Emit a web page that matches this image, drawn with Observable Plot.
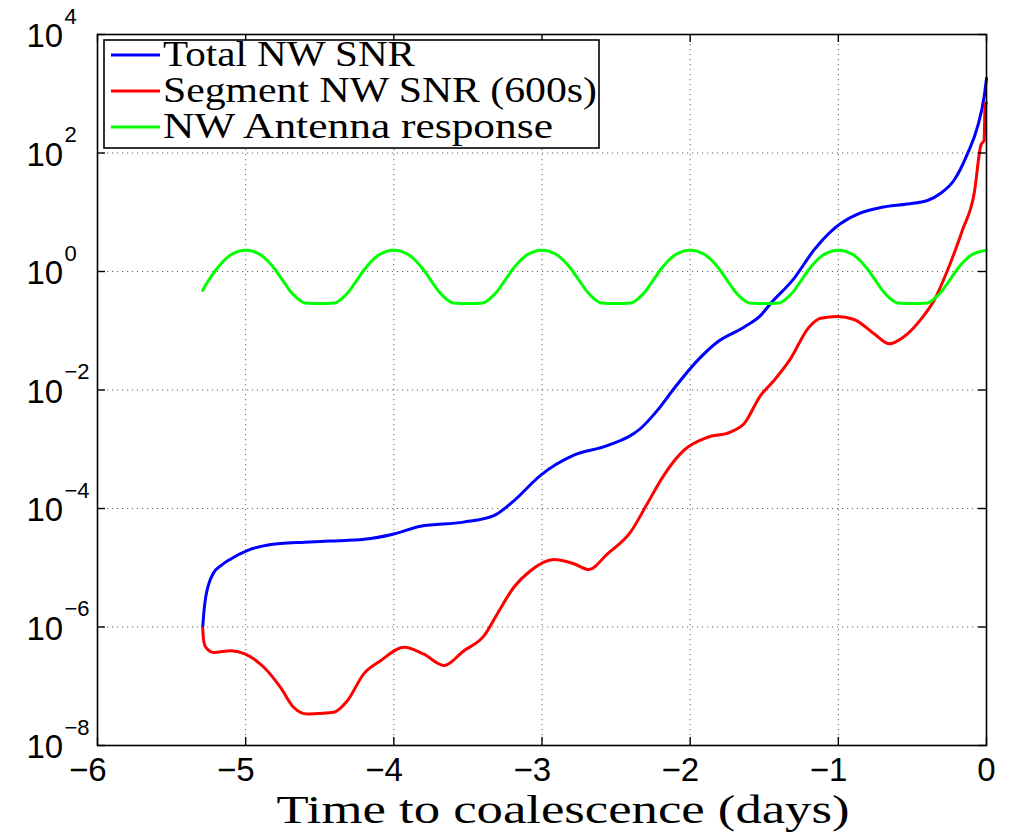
<!DOCTYPE html>
<html><head><meta charset="utf-8">
<script src="https://cdn.jsdelivr.net/npm/d3@7"></script>
<script src="https://cdn.jsdelivr.net/npm/@observablehq/plot@0.6"></script>
<style>body{margin:0;background:#fff} svg{display:block}</style>
</head><body><div id="chart"></div>
<script>
// ---- data ----
const seriesNames = ["Total NW SNR", "Segment NW SNR (600s)", "NW Antenna response"];
const seriesColors = ["#0000ff", "#ff0000", "#00ff00"];

const blueT = [-5.29,-5.28,-5.27,-5.25,-5.22,-5.16,-5.10,-4.99,-4.88,-4.765,-4.6,-4.43,-4.2,-4.0,-3.82,-3.53,-3.325,-3.19,-3.01,-2.785,-2.56,-2.335,-2.22,-2.11,-1.95,-1.816,-1.637,-1.524,-1.457,-1.30,-1.165,-1.04,-0.984,-0.849,-0.714,-0.534,-0.398,-0.309,-0.219,-0.128,-0.061,-0.016,0];
const blueV = [1.0e-6,2.0e-6,3.16e-6,5.25e-6,7.94e-6,1.12e-5,1.41e-5,1.95e-5,2.34e-5,2.57e-5,2.69e-5,2.82e-5,3.02e-5,3.72e-5,5.01e-5,5.89e-5,7.59e-5,1.35e-4,3.63e-4,7.94e-4,1.15e-3,2.24e-3,4.57e-3,1.05e-2,3.16e-2,6.46e-2,1.15e-1,1.82e-1,2.88e-1,7.59e-1,2.29,5.01,6.46,9.77,12.0,13.8,15.8,20.9,34.7,97.7,275,891,1820];

const redT = [-5.29,-5.285,-5.27,-5.215,-5.10,-5.01,-4.877,-4.765,-4.675,-4.585,-4.5,-4.405,-4.315,-4.203,-4.09,-3.93,-3.797,-3.662,-3.527,-3.392,-3.302,-3.19,-3.078,-2.92,-2.785,-2.684,-2.56,-2.403,-2.29,-2.178,-2.043,-1.885,-1.728,-1.637,-1.524,-1.434,-1.33,-1.198,-1.119,-1.006,-0.894,-0.759,-0.658,-0.557,-0.422,-0.354,-0.263,-0.162,-0.083,-0.038,-0.016,-0.009,0];
const redV = [9.55e-7,6.31e-7,4.57e-7,3.72e-7,3.98e-7,3.55e-7,2.09e-7,9.55e-8,4.37e-8,3.39e-8,3.47e-8,3.63e-8,5.62e-8,1.62e-7,2.69e-7,4.57e-7,3.47e-7,2.24e-7,3.98e-7,7.08e-7,1.66e-6,4.68e-6,8.91e-6,1.38e-5,1.17e-5,9.33e-6,1.70e-5,3.98e-5,1.20e-4,3.63e-4,9.55e-4,1.58e-3,1.95e-3,2.69e-3,8.13e-3,1.45e-2,3.16e-2,1.15e-1,1.62e-1,1.74e-1,1.55e-1,8.91e-2,6.03e-2,7.94e-2,1.82e-1,3.24e-1,1.05,5.01,20.9,135,166,692,692];

const greenT = [-5.29,-5.25,-5.2,-5.1,-5.0,
  -4.9,-4.8,-4.75,-4.7,-4.65,-4.6,-4.5,-4.4,-4.35,-4.3,-4.25,-4.2,-4.1,-4.0,
  -3.9,-3.8,-3.75,-3.7,-3.65,-3.6,-3.5,-3.4,-3.35,-3.3,-3.25,-3.2,-3.1,-3.0,
  -2.9,-2.8,-2.75,-2.7,-2.65,-2.6,-2.5,-2.4,-2.35,-2.3,-2.25,-2.2,-2.1,-2.0,
  -1.9,-1.8,-1.75,-1.7,-1.65,-1.6,-1.5,-1.4,-1.35,-1.3,-1.25,-1.2,-1.1,-1.0,
  -0.9,-0.8,-0.75,-0.7,-0.65,-0.6,-0.5,-0.4,-0.35,-0.3,-0.25,-0.2,-0.1,0];
const greenV = [0.48,0.71,1.07,1.91,2.29,
  1.91,1.07,0.71,0.47,0.35,0.295,0.288,0.295,0.35,0.47,0.71,1.07,1.91,2.29,
  1.91,1.07,0.71,0.47,0.35,0.295,0.288,0.295,0.35,0.47,0.71,1.07,1.91,2.29,
  1.91,1.07,0.71,0.47,0.35,0.295,0.288,0.295,0.35,0.47,0.71,1.07,1.91,2.29,
  1.91,1.07,0.71,0.47,0.35,0.295,0.288,0.295,0.35,0.47,0.71,1.07,1.91,2.29,
  1.91,1.07,0.71,0.47,0.35,0.295,0.288,0.295,0.35,0.47,0.71,1.07,1.91,2.29];

const xTicks = [-6,-5,-4,-3,-2,-1,0];
const xTickLabels = ["−6","−5","−4","−3","−2","−1","0"];
const xGrid = [-5,-4,-3,-2,-1];
const yTicks = [1e-8,1e-6,1e-4,1e-2,1e0,1e2,1e4];
const yTickExp = ["−8","−6","−4","−2","0","2","4"];
const yGrid = [1e-6,1e-4,1e-2,1e0,1e2];
const xLabel = "Time to coalescence (days)";

// ---- tables ----
const toRows = (T, V) => T.map((t, i) => ({t, v: V[i]}));
const blue = toRows(blueT, blueV);
const red = toRows(redT, redV);
const green = toRows(greenT, greenV);

const W = 1010, H = 835, mL = 97, mR = 24, mT = 34, mB = 90;
const fw = W - mL - mR, fh = H - mT - mB;

const plot = Plot.plot({
  width: W, height: H,
  marginLeft: mL, marginRight: mR, marginTop: mT, marginBottom: mB,
  x: {domain: [-6, 0], axis: null},
  y: {type: "log", domain: [1e-8, 1e4], axis: null},
  style: {fontFamily: "'Liberation Sans', Arial, sans-serif", fontSize: "32px", color: "#000", background: "#fff", overflow: "visible"},
  marks: [
    Plot.ruleY(yGrid, {y: d => d, stroke: "#666", strokeWidth: 1, strokeDasharray: "1.2,3.8"}),
    Plot.ruleX(xGrid, {x: d => d, stroke: "#666", strokeWidth: 1, strokeDasharray: "1.2,3.8"}),
    Plot.line(blue, {x: "t", y: "v", stroke: seriesColors[0], strokeWidth: 3, curve: "monotone-x"}),
    Plot.line(red, {x: "t", y: "v", stroke: seriesColors[1], strokeWidth: 3, curve: "monotone-x"}),
    Plot.line(green, {x: "t", y: "v", stroke: seriesColors[2], strokeWidth: 3, curve: "monotone-x"}),
    Plot.frame({stroke: "#000", strokeWidth: 1.6}),
    Plot.tickY(yTicks, {y: d => d, insetRight: fw - 8, stroke: "#000", strokeWidth: 1.4}),
    Plot.tickY(yTicks, {y: d => d, insetLeft: fw - 8, stroke: "#000", strokeWidth: 1.4}),
    Plot.tickX(xTicks, {x: d => d, insetBottom: fh - 8, stroke: "#000", strokeWidth: 1.4}),
    Plot.tickX(xTicks, {x: d => d, insetTop: fh - 8, stroke: "#000", strokeWidth: 1.4}),
    Plot.text(xTicks.slice(0, 6), {x: d => d, text: (d, i) => xTickLabels[i], frameAnchor: "bottom", textAnchor: "end", dx: 9, dy: 25, lineAnchor: "middle", fontSize: 33}),
    Plot.text(xTicks.slice(6), {x: d => d, text: () => xTickLabels[6], frameAnchor: "bottom", textAnchor: "middle", dy: 25, lineAnchor: "middle", fontSize: 33}),
    Plot.text(yTicks, {y: d => d, text: () => "10", frameAnchor: "left", textAnchor: "start", dx: -71, dy: 2, lineAnchor: "middle", fontSize: 33}),
    Plot.text(yTicks, {y: d => d, text: (d, i) => yTickExp[i], frameAnchor: "left", textAnchor: "start", dx: -33, dy: -18, lineAnchor: "middle", fontSize: 22}),
    Plot.text([xLabel], {text: d => d, frameAnchor: "bottom", dx: 21, dy: 77, lineAnchor: "bottom", fontFamily: "'Liberation Serif', serif", fontSize: 40, className: "xtitle"})
  ]
});

document.getElementById("chart").appendChild(plot);
const svg = d3.select(plot);
svg.selectAll(".xtitle text").attr("textLength", 573).attr("lengthAdjust", "spacingAndGlyphs");

// ---- legend ----
const lg = svg.append("g").attr("class", "legend").attr("text-anchor", "start");
lg.append("rect").attr("x", 104).attr("y", 40).attr("width", 495).attr("height", 108)
  .attr("fill", "#fff").attr("stroke", "#000").attr("stroke-width", 1.6);
const legendWidths = [252, 434, 390];
seriesNames.forEach((name, i) => {
  const yb = 66 + i * 36;
  lg.append("line").attr("x1", 111).attr("x2", 160).attr("y1", yb - 11).attr("y2", yb - 11)
    .attr("stroke", seriesColors[i]).attr("stroke-width", 3);
  lg.append("text").attr("x", 163).attr("y", yb).text(name)
    .attr("text-anchor", "start")
    .attr("font-family", "'Liberation Serif', serif").attr("font-size", 35).attr("fill", "#000")
    .attr("textLength", legendWidths[i]).attr("lengthAdjust", "spacingAndGlyphs");
});
</script></body></html>
